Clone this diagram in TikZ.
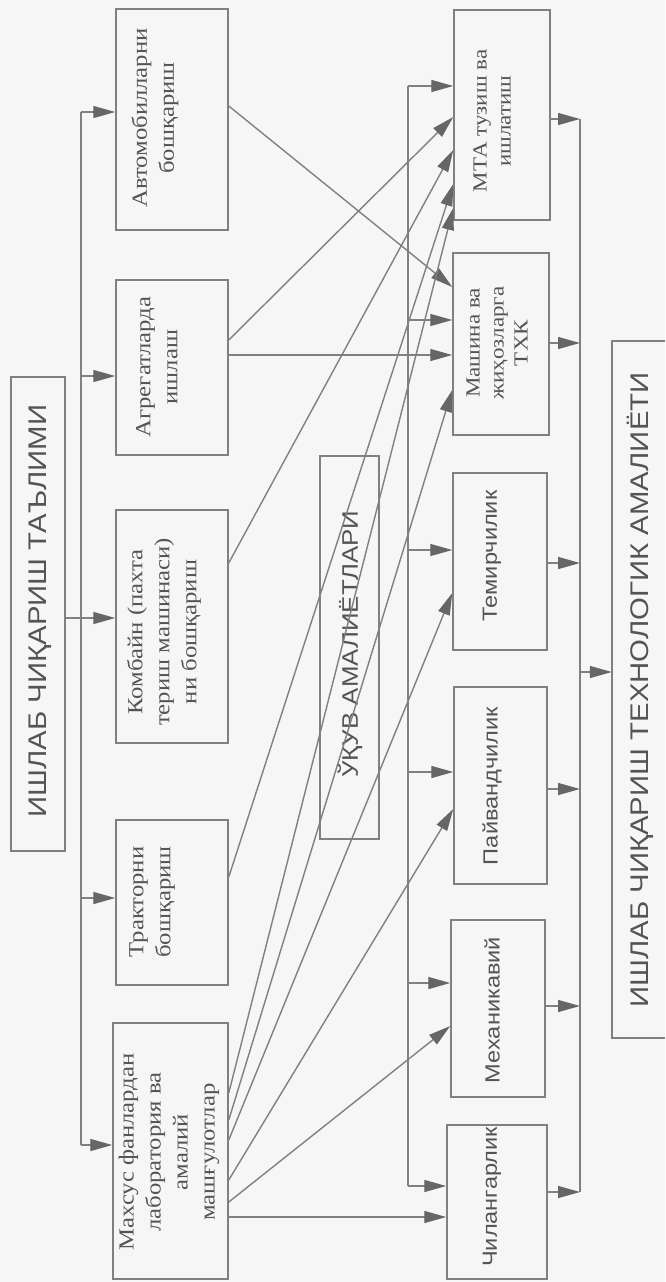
\documentclass[tikz,border=0pt]{standalone}
\usepackage{fontspec}
\setmainfont{Liberation Serif}
\newfontfamily\serifT{Liberation Serif}[FakeStretch=1.15]
\newfontfamily\sansT{Liberation Sans}[FakeStretch=1.15]
\usetikzlibrary{arrows.meta}
\definecolor{ln}{gray}{0.5}
\definecolor{tipc}{gray}{0.4}
\definecolor{tx}{gray}{0.33}
\definecolor{bg}{gray}{0.965}
\begin{document}
\begin{tikzpicture}[x=1pt,y=-1pt,
  box/.style={draw=ln, line width=1.5pt, inner sep=0pt},
  lbl/.style={text=tx, rotate=90, align=center, inner sep=0pt},
  lserif/.style={lbl, font=\serifT\fontsize{21.5}{27}\selectfont},
  rserif/.style={lbl, font=\serifT\fontsize{20}{24}\selectfont},
  rsans/.style={lbl, font=\sansT\fontsize{20.5}{24}\selectfont},
  bigsans/.style={lbl, font=\sansT\fontsize{25.5}{30}\selectfont},
  conn/.style={draw=ln, line width=1.4pt},
  arr/.style={conn, arrows={-Triangle[length=22pt 0 0, width=12pt 0 0, color=tipc, fill=tipc]}}]
\fill[bg] (0,0) rectangle (665,1282);
\useasboundingbox (0,0) rectangle (665,1282);

% boxes
\node[box, minimum width=54pt, minimum height=474pt] (main) at (38,614) {};
\node[box, minimum width=112pt, minimum height=221pt] (auto) at (172,119.5) {};
\node[box, minimum width=112pt, minimum height=175pt] (agr) at (172,367.5) {};
\node[box, minimum width=112pt, minimum height=233pt] (komb) at (172,626.5) {};
\node[box, minimum width=112pt, minimum height=165pt] (trak) at (172,902.5) {};
\node[box, minimum width=115pt, minimum height=256pt] (mahsus) at (170.5,1151) {};
\node[box, minimum width=59pt, minimum height=383pt] (mid) at (349.5,647.5) {};
\node[box, minimum width=96pt, minimum height=210pt] (mta) at (502,115) {};
\node[box, minimum width=96pt, minimum height=182pt] (mash) at (501,344) {};
\node[box, minimum width=94pt, minimum height=177pt] (temir) at (500,561.5) {};
\node[box, minimum width=93pt, minimum height=197pt] (payv) at (500.5,785.5) {};
\node[box, minimum width=94pt, minimum height=177pt] (mex) at (498,1008.5) {};
\node[box, minimum width=100pt, minimum height=154pt] (chil) at (497,1202) {};
\node[inner sep=0pt, minimum width=53pt, minimum height=697pt] (final) at (638.5,689.5) {};
\draw[draw=ln, line width=1.5pt] (final.north east) -- (final.north west) -- (final.south west) -- (final.south east);

% texts
\node[bigsans] (mainT) at (40,611) {ИШЛАБ ЧИҚАРИШ ТАЪЛИМИ};
\node[lserif] (autoT) at (155,118) {Автомобилларни\\бошқариш};
\node[lserif] (agrT) at (157,367) {Агрегатларда\\ишлаш};
\node[lserif] (kombT) at (164,632) {Комбайн (пахта\\териш машинаси)\\ни бошқариш};
\node[lserif] (trakT) at (152,902) {Тракторни\\бошқариш};
\node[lserif] (mahsusT) at (169,1152) {Махсус фанлардан\\лаборатория ва\\амалий\\машғулотлар};
\node[lbl, font=\sansT\fontsize{22.5}{26}\selectfont] (midT) at (350,644) {ЎҚУВ АМАЛИЁТЛАРИ};
\node[rserif] (mtaT) at (492,121) {МТА тузиш ва\\ишлатиш};
\node[rserif] (mashT) at (497,343) {Машина ва\\жиҳозларга\\ТХК};
\node[rsans] (temirT) at (492,556) {Темирчилик};
\node[rsans] (payvT) at (492,786) {Пайвандчилик};
\node[rsans] (mexT) at (492,1010) {Механикавий};
\node[rsans] (chilT) at (492,1197) {Чилангарлик};
\node[bigsans] (finalT) at (640,690) {ИШЛАБ ЧИҚАРИШ ТЕХНОЛОГИК АМАЛИЁТИ};

% spine 1
\coordinate (s1a) at (81,112);
\coordinate (s1b) at (81,376);
\coordinate (s1c) at (81,618);
\coordinate (s1d) at (81,898);
\coordinate (s1e) at (81,1145);
\draw[conn] (s1a) -- (s1e);
\draw[conn] (main.east |- s1c) -- (s1c);
\draw[arr] (s1a) -- (s1a -| auto.west);
\draw[arr] (s1b) -- (s1b -| agr.west);
\draw[arr] (s1c) -- (s1c -| komb.west);
\draw[arr] (s1d) -- (s1d -| trak.west);
\draw[arr] (s1e) -- (s1e -| mahsus.west);

% spine 2
\coordinate (s2a) at (408,86);
\coordinate (s2b) at (408,320);
\coordinate (s2c) at (408,550);
\coordinate (s2d) at (408,772);
\coordinate (s2e) at (408,983);
\coordinate (s2f) at (408,1186);
\draw[conn] (s2a) -- (s2f);
\draw[arr] (s2a) -- (s2a -| mta.west);
\draw[arr] (s2b) -- (s2b -| mash.west);
\draw[arr] (s2c) -- (s2c -| temir.west);
\draw[arr] (s2d) -- (s2d -| payv.west);
\draw[arr] (s2e) -- (s2e -| mex.west);
\draw[arr] (s2f) -- (s2f -| chil.west);

% spine 3
\coordinate (s3a) at (580,119);
\coordinate (s3b) at (580,343);
\coordinate (s3c) at (580,563);
\coordinate (s3d) at (580,789);
\coordinate (s3e) at (580,1006);
\coordinate (s3f) at (580,1192);
\coordinate (s3m) at (580,672);
\draw[conn] (s3a) -- (s3f);
\draw[arr] (s3a -| mta.east) -- (s3a);
\draw[arr] (s3b -| mash.east) -- (s3b);
\draw[arr] (s3c -| temir.east) -- (s3c);
\draw[arr] (s3d -| payv.east) -- (s3d);
\draw[arr] (s3e -| mex.east) -- (s3e);
\draw[arr] (s3f -| chil.east) -- (s3f);
\draw[arr] (s3m) -- (s3m -| final.west);

% cross connectors
\draw[arr] ([yshift=13.5pt]auto.east) -- ([yshift=57pt]mash.west);
\draw[arr] ([yshift=27.5pt]agr.east) -- ([yshift=-2pt]mta.west);
\coordinate (h1) at ([yshift=12.5pt]agr.east);
\draw[arr] (h1) -- (h1 -| mash.west);
\draw[arr] ([yshift=63.5pt]komb.east) -- ([yshift=-35pt]mta.west);
\draw[arr] ([yshift=25.5pt]trak.east) -- ([yshift=-69pt]mta.west);
\draw[arr] ([yshift=58pt]mahsus.east) -- ([yshift=-93pt]mta.west);
\draw[arr] ([yshift=31pt]mahsus.east) -- ([yshift=-46pt]mash.west);
\draw[arr] ([yshift=11pt]mahsus.east) -- ([yshift=-31.5pt]temir.west);
\draw[arr] ([yshift=-29pt]mahsus.east) -- ([yshift=-23.5pt]payv.west);
\draw[arr] ([yshift=-51pt]mahsus.east) -- ([yshift=-17.5pt]mex.west);
\coordinate (h2) at ([yshift=-66pt]mahsus.east);
\draw[arr] (h2) -- (h2 -| chil.west);
\end{tikzpicture}
\end{document}
